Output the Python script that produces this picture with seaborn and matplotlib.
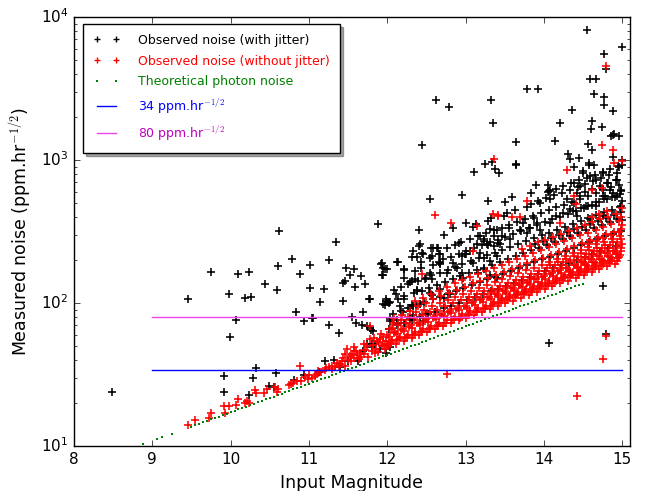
import matplotlib
matplotlib.use("Agg")
import matplotlib.pyplot as plt
from matplotlib.lines import Line2D
import numpy as np
import pandas as pd
import seaborn as sns

# ---------------- data ----------------
photon_mag = [8.88, 9.06, 9.12, 9.25,
              9.50, 9.55, 9.60, 9.65, 9.70, 9.75, 9.80, 9.85, 9.90, 9.95,
              10.00, 10.05, 10.10, 10.15, 10.20, 10.25, 10.30, 10.35, 10.40, 10.45,
              10.50, 10.55, 10.60, 10.65, 10.70, 10.75, 10.80, 10.85, 10.90, 10.95,
              11.00, 11.05, 11.10, 11.15, 11.20, 11.25, 11.30, 11.35, 11.40, 11.45,
              11.50, 11.55, 11.60, 11.65, 11.70, 11.75, 11.80, 11.85, 11.90, 11.95,
              12.00, 12.05, 12.10, 12.15, 12.20, 12.25, 12.30, 12.35, 12.40, 12.45,
              12.50, 12.55, 12.60, 12.65, 12.70, 12.75, 12.80, 12.85, 12.90, 12.95,
              13.00, 13.05, 13.10, 13.15, 13.20, 13.25, 13.30, 13.35, 13.40, 13.45,
              13.50, 13.55, 13.60, 13.65, 13.70, 13.75, 13.80, 13.85, 13.90, 13.95,
              14.00, 14.05, 14.10, 14.15, 14.20, 14.25, 14.30, 14.35, 14.40, 14.45, 14.50]
photon_noise = [10.3, 11.2, 11.5, 12.2,
                13.68, 14.00, 14.32, 14.66, 15.00, 15.35, 15.70, 16.07, 16.44, 16.83,
                17.22, 17.62, 18.03, 18.45, 18.88, 19.32, 19.77, 20.23, 20.70, 21.18,
                21.68, 22.18, 22.70, 23.23, 23.77, 24.32, 24.89, 25.47, 26.06, 26.67,
                27.29, 27.93, 28.58, 29.24, 29.92, 30.62, 31.33, 32.06, 32.81, 33.57,
                34.36, 35.16, 35.97, 36.81, 37.67, 38.55, 39.45, 40.36, 41.30, 42.27,
                43.25, 44.26, 45.29, 46.35, 47.42, 48.53, 49.66, 50.82, 52.00, 53.21,
                54.45, 55.72, 57.02, 58.34, 59.70, 61.09, 62.52, 63.97, 65.46, 66.99,
                68.55, 70.15, 71.78, 73.45, 75.16, 76.91, 78.70, 80.54, 82.41, 84.33,
                86.30, 88.31, 90.36, 92.47, 94.62, 96.83, 99.08, 101.4, 103.8, 106.2,
                108.6, 111.2, 113.8, 116.4, 119.1, 121.9, 124.7, 127.6, 130.6, 133.7, 136.8]

ref_levels = [34, 80]
ref_mag_range = [9.0, 15.0]

black_outliers = [
    (8.49, 23.7), (9.45, 106), (9.75, 166), (9.92, 31), (9.92, 23.7), (9.98, 116), (9.99, 58),
    (10.07, 76), (10.09, 160), (10.19, 108), (10.26, 111), (10.24, 166), (10.24, 22.8), (10.29, 30),
    (10.33, 35), (10.44, 135), (10.49, 26.4), (10.55, 26), (10.58, 32.5), (10.59, 124), (10.61, 180),
    (10.62, 321), (10.79, 203), (10.81, 29), (10.84, 86), (10.89, 160), (10.94, 74.5), (10.94, 31.3),
    (11.01, 185), (11.02, 128), (11.04, 78), (11.05, 79), (11.13, 32.7), (11.14, 101), (11.19, 125),
    (11.21, 39), (11.32, 40), (11.25, 70), (11.26, 200), (11.34, 267), (11.38, 62), (11.40, 35.4),
    (11.43, 139), (11.46, 142), (11.44, 103), (11.47, 177), (11.50, 39), (11.53, 158), (11.55, 80),
    (11.58, 172), (11.59, 129), (11.60, 72), (11.63, 39), (11.67, 154), (11.68, 70), (11.69, 86),
    (11.71, 135), (11.74, 69), (11.77, 106), (11.79, 65), (11.69, 46), (11.74, 51.5), (11.80, 49),
    (11.84, 51.5), (11.91, 47.5), (12.04, 49), (11.99, 45), (11.88, 354), (11.92, 186), (11.94, 177),
    (11.94, 157), (11.95, 98), (11.97, 97), (11.99, 103), (12.01, 102), (12.0, 172), (12.04, 75),
    (12.11, 115), (12.14, 192), (12.14, 73), (12.2, 86.5), (12.21, 149), (12.22, 171), (12.22, 107),
    (12.29, 141), (12.32, 209), (12.32, 97), (12.33, 231), (12.33, 82), (12.38, 209), (12.38, 123),
    (12.41, 251), (12.41, 325), (12.42, 98), (12.43, 193), (12.44, 1270), (12.45, 224), (12.5, 84),
    (12.54, 206), (12.54, 535), (12.56, 242), (12.57, 113), (12.62, 2630), (12.64, 242), (12.66, 221),
    (12.67, 186), (12.73, 301), (12.79, 2360), (12.84, 336), (12.95, 567), (13.0, 362), (13.11, 830),
    (13.19, 294), (13.25, 935), (13.29, 520), (13.33, 2630), (13.34, 964), (13.35, 1815), (13.38, 867),
    (13.43, 813), (13.50, 507), (13.59, 550), (13.64, 940), (13.65, 922), (13.65, 1340), (13.79, 3130),
    (13.84, 589), (13.90, 673), (13.93, 3160), (13.95, 502), (14.05, 665), (14.06, 605), (14.08, 615),
    (14.08, 530), (14.07, 52.4), (14.14, 1350), (14.21, 1800), (14.31, 1110), (14.33, 1020),
    (14.36, 2240), (14.38, 895), (14.45, 1040), (14.50, 840), (14.55, 8170), (14.57, 1290),
    (14.58, 922), (14.58, 955), (14.59, 3700), (14.60, 1640), (14.62, 1880), (14.62, 1170),
    (14.64, 2880), (14.64, 918), (14.67, 3700), (14.74, 1710), (14.76, 131), (14.77, 5520),
    (14.77, 2740), (14.77, 2440), (14.79, 4350), (14.79, 60.5), (14.86, 1460), (14.89, 1530),
    (14.88, 1500), (14.88, 1050), (14.885, 2210), (14.96, 1470), (14.96, 890), (14.995, 6170),
    (15.0, 1000), (15.0, 930)]

black_cloud = [
    (12.92, 264), (13.24, 271), (13.29, 253), (13.36, 250), (13.42, 261), (13.46, 294), (13.57, 281),
    (12.42, 257), (12.46, 219), (12.59, 244), (12.65, 244), (12.67, 219), (12.57, 213), (12.91, 219),
    (12.95, 213), (13.01, 219), (13.06, 231), (13.19, 224), (13.23, 207), (13.31, 197), (13.40, 213),
    (11.93, 191), (11.97, 172), (11.93, 158), (12.12, 193), (12.21, 172), (12.31, 142), (12.36, 146),
    (12.48, 146), (12.55, 163), (12.57, 146), (12.67, 191), (12.76, 163), (12.84, 191), (12.89, 177),
    (12.95, 163), (12.97, 150), (13.10, 191), (13.16, 163), (13.23, 172), (13.31, 158), (13.40, 150),
    (12.38, 121), (12.55, 118), (12.67, 125), (12.72, 109), (12.80, 115), (11.99, 106), (12.02, 100),
    (11.78, 106), (12.16, 95), (12.29, 93), (12.33, 95), (12.04, 77), (12.12, 76), (12.21, 73),
    (12.29, 77), (12.46, 75), (11.78, 67), (11.82, 64), (11.80, 51.5),
    (13.31, 330), (13.40, 325), (13.23, 279), (13.36, 294), (13.14, 257), (13.27, 257), (13.44, 257),
    (13.55, 336), (13.70, 325), (13.78, 309), (13.82, 336), (13.74, 363), (13.91, 363), (13.87, 394),
    (13.95, 325), (14.08, 363), (14.16, 404), (14.25, 427), (14.33, 451), (14.38, 501), (14.29, 530),
    (14.42, 589), (14.46, 656), (14.38, 691), (14.50, 813), (14.59, 770), (14.67, 729), (14.76, 813),
    (14.80, 691), (14.85, 621), (14.93, 729), (14.93, 558), (14.99, 605), (14.99, 475), (14.76, 558),
    (14.67, 475), (14.54, 475), (14.46, 558), (14.42, 404), (14.59, 384), (14.76, 404)]

black_band = [
    (12.02, 66), (12.07, 84), (12.04, 102), (12.09, 124),
    (12.12, 70), (12.18, 88), (12.14, 107), (12.17, 130),
    (12.23, 73), (12.27, 92), (12.21, 112), (12.26, 136),
    (12.31, 76), (12.37, 97), (12.34, 117), (12.39, 142), (12.36, 168),
    (12.42, 80), (12.47, 101), (12.44, 122), (12.49, 149), (12.43, 176),
    (12.52, 84), (12.58, 106), (12.53, 128), (12.56, 156), (12.59, 184),
    (12.61, 87), (12.67, 111), (12.63, 134), (12.68, 163), (12.66, 193),
    (12.72, 92), (12.78, 116), (12.74, 141), (12.77, 171), (12.71, 202), (12.76, 244),
    (12.82, 96), (12.88, 122), (12.84, 147), (12.87, 179), (12.81, 211), (12.86, 256),
    (12.91, 100), (12.97, 127), (12.93, 154), (12.96, 188), (12.99, 221), (12.94, 268),
    (13.02, 105), (13.08, 133), (13.04, 161), (13.07, 197), (13.01, 232), (13.06, 281), (13.09, 340),
    (13.12, 110), (13.18, 140), (13.14, 169), (13.17, 206), (13.11, 243), (13.16, 294), (13.13, 355),
    (13.22, 115), (13.28, 146), (13.24, 177), (13.27, 215), (13.21, 254), (13.26, 308), (13.29, 372),
    (13.32, 121), (13.38, 153), (13.34, 185), (13.37, 225), (13.31, 266), (13.36, 322), (13.33, 390),
    (13.42, 126), (13.48, 160), (13.44, 194), (13.47, 236), (13.41, 278), (13.46, 337), (13.49, 408),
    (13.52, 132), (13.58, 168), (13.54, 203), (13.57, 247), (13.51, 291), (13.56, 353), (13.53, 428),
    (13.62, 139), (13.68, 176), (13.64, 213), (13.67, 259), (13.61, 305), (13.66, 370), (13.63, 448),
    (13.72, 145), (13.78, 184), (13.74, 223), (13.77, 271), (13.71, 319), (13.76, 387), (13.79, 470),
    (13.82, 152), (13.88, 193), (13.84, 233), (13.87, 284), (13.81, 335), (13.86, 406), (13.83, 492), (13.89, 260),
    (13.92, 159), (13.98, 202), (13.94, 244), (13.97, 297), (13.91, 350), (13.96, 425), (13.93, 515), (13.99, 272),
    (14.02, 167), (14.08, 211), (14.04, 256), (14.07, 311), (14.01, 367), (14.06, 445), (14.03, 540), (14.09, 285), (14.05, 600),
    (14.12, 175), (14.18, 221), (14.14, 268), (14.17, 326), (14.11, 384), (14.16, 466), (14.13, 565), (14.19, 298), (14.15, 630),
    (14.22, 183), (14.28, 232), (14.24, 280), (14.27, 341), (14.21, 402), (14.26, 488), (14.23, 592), (14.29, 312), (14.25, 660),
    (14.32, 191), (14.38, 242), (14.34, 293), (14.37, 357), (14.31, 421), (14.36, 510), (14.33, 620), (14.39, 327), (14.35, 690), (14.37, 440),
    (14.42, 200), (14.48, 254), (14.44, 307), (14.47, 374), (14.41, 441), (14.46, 535), (14.43, 650), (14.49, 342), (14.45, 720), (14.47, 460),
    (14.52, 210), (14.58, 266), (14.54, 322), (14.57, 392), (14.51, 462), (14.56, 560), (14.53, 680), (14.59, 358), (14.55, 750), (14.57, 480), (14.52, 600),
    (14.62, 220), (14.68, 279), (14.64, 337), (14.67, 410), (14.61, 484), (14.66, 586), (14.63, 710), (14.69, 375), (14.65, 790), (14.67, 505), (14.62, 630),
    (14.72, 230), (14.78, 292), (14.74, 353), (14.77, 430), (14.71, 507), (14.76, 614), (14.73, 745), (14.79, 393), (14.75, 830), (14.77, 530), (14.72, 660), (14.78, 560),
    (14.82, 241), (14.88, 305), (14.84, 370), (14.87, 450), (14.81, 530), (14.86, 643), (14.83, 780), (14.89, 411), (14.85, 870), (14.87, 555), (14.82, 690), (14.88, 585),
    (14.92, 252), (14.98, 320), (14.94, 387), (14.97, 471), (14.91, 555), (14.96, 673), (14.93, 815), (14.99, 430), (14.95, 910), (14.97, 580), (14.92, 720), (14.98, 612), (15.0, 520), (15.0, 380)]

red_low = [
    (9.45, 14.1), (9.55, 15.3), (9.72, 15.8), (9.75, 17), (9.92, 18.9), (9.93, 16.9), (9.98, 19),
    (10.07, 19.2), (10.09, 21.3), (10.18, 20), (10.21, 20.7), (10.23, 20), (10.31, 24.6), (10.33, 23.6),
    (10.42, 23.4), (10.46, 25), (10.57, 25.7), (10.59, 24), (10.61, 25), (10.74, 26.7), (10.77, 27.1),
    (10.80, 27.8), (10.89, 36), (10.95, 30.6), (10.99, 29.4), (11.04, 30.1), (11.08, 31), (11.16, 32.7),
    (11.25, 35.4), (11.29, 34.4), (11.33, 35.4), (11.40, 37.3), (11.46, 36.3), (11.48, 47.5),
    (11.57, 48.9), (11.65, 45), (11.67, 41.6), (11.74, 50), (11.78, 55.8), (11.89, 53), (11.91, 56.4),
    (11.95, 58), (11.99, 54.3), (10.85, 28.5), (10.90, 28.3), (11.0, 31.2), (11.1, 32), (11.12, 33.5),
    (11.2, 33.8), (11.22, 35), (11.3, 36.5), (11.36, 37.8), (11.38, 36), (11.42, 39), (11.44, 41),
    (11.5, 40), (11.52, 42.5), (11.55, 44), (11.58, 41), (11.6, 46), (11.62, 43), (11.7, 44),
    (11.72, 47), (11.75, 42), (11.8, 46), (11.82, 51), (11.84, 44.5), (11.86, 48), (11.88, 45.5),
    (11.93, 50), (11.97, 47.5), (12.0, 51), (11.78, 69), (11.87, 54), (12.06, 67), (11.57, 46),
    (11.46, 43.9), (11.54, 39.5), (11.64, 40.5), (11.7, 52), (11.83, 57), (11.92, 61), (11.96, 52)]

red_band = [
    (12.01, 50), (12.03, 52), (12.06, 55), (12.02, 58), (12.08, 62), (12.04, 66), (12.07, 72), (12.09, 78), (12.05, 53), (12.00, 60),
    (12.11, 52), (12.13, 55), (12.16, 58), (12.12, 61), (12.18, 65), (12.14, 70), (12.17, 76), (12.19, 82), (12.15, 56), (12.10, 63),
    (12.21, 54), (12.23, 57), (12.26, 60), (12.22, 64), (12.28, 68), (12.24, 73), (12.27, 80), (12.29, 88), (12.25, 58), (12.20, 66),
    (12.31, 57), (12.33, 60), (12.36, 63), (12.32, 67), (12.38, 72), (12.34, 78), (12.37, 86), (12.39, 95), (12.35, 61), (12.30, 70), (12.36, 104),
    (12.41, 60), (12.43, 63), (12.46, 66), (12.42, 70), (12.48, 75), (12.44, 82), (12.47, 90), (12.49, 100), (12.45, 64), (12.40, 73), (12.46, 108),
    (12.51, 63), (12.53, 66), (12.56, 69), (12.52, 74), (12.58, 79), (12.54, 86), (12.57, 95), (12.59, 106), (12.55, 67), (12.50, 77), (12.56, 115),
    (12.61, 66), (12.63, 69), (12.66, 72), (12.62, 77), (12.68, 83), (12.64, 90), (12.67, 100), (12.69, 112), (12.65, 70), (12.60, 80), (12.66, 122),
    (12.71, 69), (12.73, 72), (12.76, 76), (12.72, 81), (12.78, 87), (12.74, 95), (12.77, 105), (12.79, 118), (12.75, 73), (12.70, 84), (12.76, 130),
    (12.81, 72), (12.83, 76), (12.86, 80), (12.82, 85), (12.88, 91), (12.84, 100), (12.87, 111), (12.89, 124), (12.85, 77), (12.80, 88), (12.86, 137),
    (12.91, 76), (12.93, 79), (12.96, 84), (12.92, 89), (12.98, 96), (12.94, 105), (12.97, 116), (12.99, 130), (12.95, 81), (12.90, 92), (12.96, 144),
    (13.01, 79), (13.03, 83), (13.06, 88), (13.02, 93), (13.08, 100), (13.04, 110), (13.07, 122), (13.09, 137), (13.05, 85), (13.00, 96), (13.06, 152), (13.03, 105),
    (13.11, 83), (13.13, 87), (13.16, 92), (13.12, 97), (13.18, 105), (13.14, 115), (13.17, 128), (13.19, 143), (13.15, 89), (13.10, 101), (13.16, 160), (13.13, 110),
    (13.21, 87), (13.23, 91), (13.26, 96), (13.22, 102), (13.28, 110), (13.24, 121), (13.27, 134), (13.29, 150), (13.25, 93), (13.20, 106), (13.26, 168), (13.23, 115),
    (13.31, 91), (13.33, 95), (13.36, 101), (13.32, 107), (13.38, 115), (13.34, 126), (13.37, 140), (13.39, 157), (13.35, 98), (13.30, 111), (13.36, 176), (13.33, 120),
    (13.41, 95), (13.43, 100), (13.46, 106), (13.42, 112), (13.48, 121), (13.44, 132), (13.47, 147), (13.49, 165), (13.45, 103), (13.40, 116), (13.46, 185), (13.43, 126), (13.47, 109),
    (13.51, 100), (13.53, 105), (13.56, 111), (13.52, 117), (13.58, 127), (13.54, 138), (13.57, 154), (13.59, 172), (13.55, 108), (13.50, 122), (13.56, 194), (13.53, 132), (13.57, 114),
    (13.61, 104), (13.63, 110), (13.66, 116), (13.62, 123), (13.68, 133), (13.64, 145), (13.67, 161), (13.69, 181), (13.65, 113), (13.60, 128), (13.66, 203), (13.63, 138), (13.67, 120),
    (13.71, 109), (13.73, 115), (13.76, 121), (13.72, 129), (13.78, 139), (13.74, 152), (13.77, 169), (13.79, 190), (13.75, 118), (13.70, 134), (13.76, 214), (13.73, 145), (13.77, 125), (13.72, 240),
    (13.81, 114), (13.83, 120), (13.86, 127), (13.82, 135), (13.88, 146), (13.84, 159), (13.87, 177), (13.89, 199), (13.85, 124), (13.80, 140), (13.86, 225), (13.83, 152), (13.87, 131), (13.82, 252),
    (13.91, 120), (13.93, 126), (13.96, 133), (13.92, 141), (13.98, 153), (13.94, 167), (13.97, 185), (13.99, 208), (13.95, 130), (13.90, 147), (13.96, 236), (13.93, 160), (13.97, 137), (13.92, 265),
    (14.01, 125), (14.03, 132), (14.06, 139), (14.02, 148), (14.08, 160), (14.04, 175), (14.07, 194), (14.09, 218), (14.05, 136), (14.00, 154), (14.06, 247), (14.03, 167), (14.07, 143), (14.02, 278), (14.08, 185),
    (14.11, 131), (14.13, 138), (14.16, 146), (14.12, 155), (14.18, 168), (14.14, 183), (14.17, 203), (14.19, 228), (14.15, 142), (14.10, 161), (14.16, 259), (14.13, 175), (14.17, 150), (14.12, 291), (14.18, 194),
    (14.21, 137), (14.23, 144), (14.26, 152), (14.22, 162), (14.28, 176), (14.24, 192), (14.27, 213), (14.29, 239), (14.25, 149), (14.20, 169), (14.26, 271), (14.23, 183), (14.27, 157), (14.22, 305), (14.28, 203),
    (14.31, 143), (14.33, 151), (14.36, 159), (14.32, 170), (14.38, 184), (14.34, 201), (14.37, 223), (14.39, 250), (14.35, 156), (14.30, 177), (14.36, 284), (14.33, 192), (14.37, 164), (14.32, 319), (14.38, 212), (14.34, 166),
    (14.41, 150), (14.43, 158), (14.46, 167), (14.42, 178), (14.48, 193), (14.44, 210), (14.47, 234), (14.49, 262), (14.45, 163), (14.40, 185), (14.46, 297), (14.43, 201), (14.47, 172), (14.42, 334), (14.48, 222), (14.44, 175),
    (14.51, 157), (14.53, 165), (14.56, 175), (14.52, 186), (14.58, 202), (14.54, 220), (14.57, 245), (14.59, 275), (14.55, 171), (14.50, 194), (14.56, 311), (14.53, 210), (14.57, 180), (14.52, 350), (14.58, 233), (14.54, 183), (14.56, 260),
    (14.61, 164), (14.63, 173), (14.66, 183), (14.62, 195), (14.68, 212), (14.64, 231), (14.67, 257), (14.69, 288), (14.65, 179), (14.60, 203), (14.66, 326), (14.63, 220), (14.67, 189), (14.62, 367), (14.68, 244), (14.64, 192), (14.66, 272), (14.61, 400),
    (14.71, 172), (14.73, 181), (14.76, 192), (14.72, 204), (14.78, 222), (14.74, 242), (14.77, 269), (14.79, 302), (14.75, 187), (14.70, 212), (14.76, 341), (14.73, 230), (14.77, 198), (14.72, 384), (14.78, 256), (14.74, 201), (14.76, 285), (14.71, 420),
    (14.81, 180), (14.83, 189), (14.86, 201), (14.82, 214), (14.88, 232), (14.84, 253), (14.87, 281), (14.89, 316), (14.85, 196), (14.80, 222), (14.86, 357), (14.83, 241), (14.87, 207), (14.82, 402), (14.88, 268), (14.84, 210), (14.86, 298), (14.81, 440),
    (14.91, 188), (14.93, 198), (14.96, 210), (14.92, 224), (14.98, 243), (14.94, 265), (14.97, 294), (14.99, 331), (14.95, 205), (14.90, 232), (14.96, 374), (14.93, 252), (14.97, 217), (14.92, 421), (14.98, 281), (14.94, 220), (14.96, 312), (15.00, 460), (14.99, 400), (15.00, 350), (15.00, 260), (14.99, 230)]

red_outliers = [
    (12.61, 414), (13.36, 1020), (13.42, 405), (13.59, 402), (13.69, 400), (13.79, 513), (14.29, 857),
    (14.74, 1270), (14.79, 4570), (14.88, 1180), (14.89, 955), (15.0, 990), (14.79, 58.5), (14.76, 40.5),
    (12.76, 31.8), (14.42, 22.3), (13.35, 421), (13.41, 411), (14.21, 363), (14.38, 563), (14.41, 490),
    (14.74, 638), (14.62, 615), (13.10, 231), (12.45, 160), (12.82, 363), (13.14, 348)]

# ---------------- styling ----------------
plt.style.use("classic")
plt.rcParams["figure.facecolor"] = "white"
plt.rcParams["savefig.facecolor"] = "white"
plt.rcParams["font.family"] = ["DejaVu Sans"]

GREEN = (0.0, 0.5, 0.0)
MAG_TEXT = (0.75, 0.0, 0.75)
MAG_LINE = "#ee44ee"

fig = plt.figure(figsize=(6.56, 4.91), dpi=100)
ax = fig.add_axes([74 / 656, 1 - 446 / 491, (630 - 74) / 656, (446 - 17) / 491])


def to_df(*lists):
    pts = [p for lst in lists for p in lst]
    return pd.DataFrame(pts, columns=["mag", "noise"])


black_df = to_df(black_outliers, black_cloud, black_band)
red_df = to_df(red_low, red_band, red_outliers)
green_df = pd.DataFrame({"mag": photon_mag, "noise": photon_noise})

sns.scatterplot(data=black_df, x="mag", y="noise", marker="+", color="k",
                s=34, linewidth=1.15, ax=ax, legend=False, zorder=2)
sns.scatterplot(data=red_df, x="mag", y="noise", marker="+", color="r",
                s=34, linewidth=1.15, ax=ax, legend=False, zorder=3)
sns.scatterplot(data=green_df, x="mag", y="noise", marker="s", color=GREEN,
                s=3.5, linewidth=0, ax=ax, legend=False, zorder=4)
sns.lineplot(x=ref_mag_range, y=[ref_levels[0]] * 2, color="b", lw=1.0,
             ax=ax, legend=False, zorder=5)
sns.lineplot(x=ref_mag_range, y=[ref_levels[1]] * 2, color=MAG_LINE, lw=1.0,
             ax=ax, legend=False, zorder=5)

ax.set_yscale("log")
ax.set_xlim(8, 15.1)
ax.set_ylim(10, 1e4)
ax.set_xticks([8, 9, 10, 11, 12, 13, 14, 15])
ax.tick_params(axis="both", which="major", labelsize=11)
ax.set_xlabel("Input Magnitude", fontsize=12.5)
ax.set_ylabel(r"Measured noise (ppm.hr$^{-1/2}$)", fontsize=12.5)

handles = [
    Line2D([], [], marker="+", ls="none", color="k", ms=5, mew=1.0),
    Line2D([], [], marker="+", ls="none", color="r", ms=5, mew=1.0),
    Line2D([], [], marker="s", ls="none", color=GREEN, ms=1.8, mew=0),
    Line2D([], [], color="b", lw=1.0),
    Line2D([], [], color=MAG_LINE, lw=1.0),
]
labels = ["Observed noise (with jitter)", "Observed noise (without jitter)",
          "Theoretical photon noise", r"34 ppm.hr$^{-1/2}$", r"80 ppm.hr$^{-1/2}$"]
text_colors = ["k", "r", GREEN, "b", MAG_TEXT]
leg = ax.legend(handles, labels, loc="upper left", bbox_to_anchor=(0.0164, 0.984),
                borderaxespad=0, numpoints=2, fontsize=9, frameon=True, fancybox=False,
                shadow=True, handlelength=2.1, handletextpad=1.5, borderpad=0.8,
                labelspacing=0.62)
leg.get_frame().set_edgecolor("k")
leg.get_frame().set_linewidth(1.0)
for t, c in zip(leg.get_texts(), text_colors):
    t.set_color(c)

fig.savefig("out.png", dpi=100)
